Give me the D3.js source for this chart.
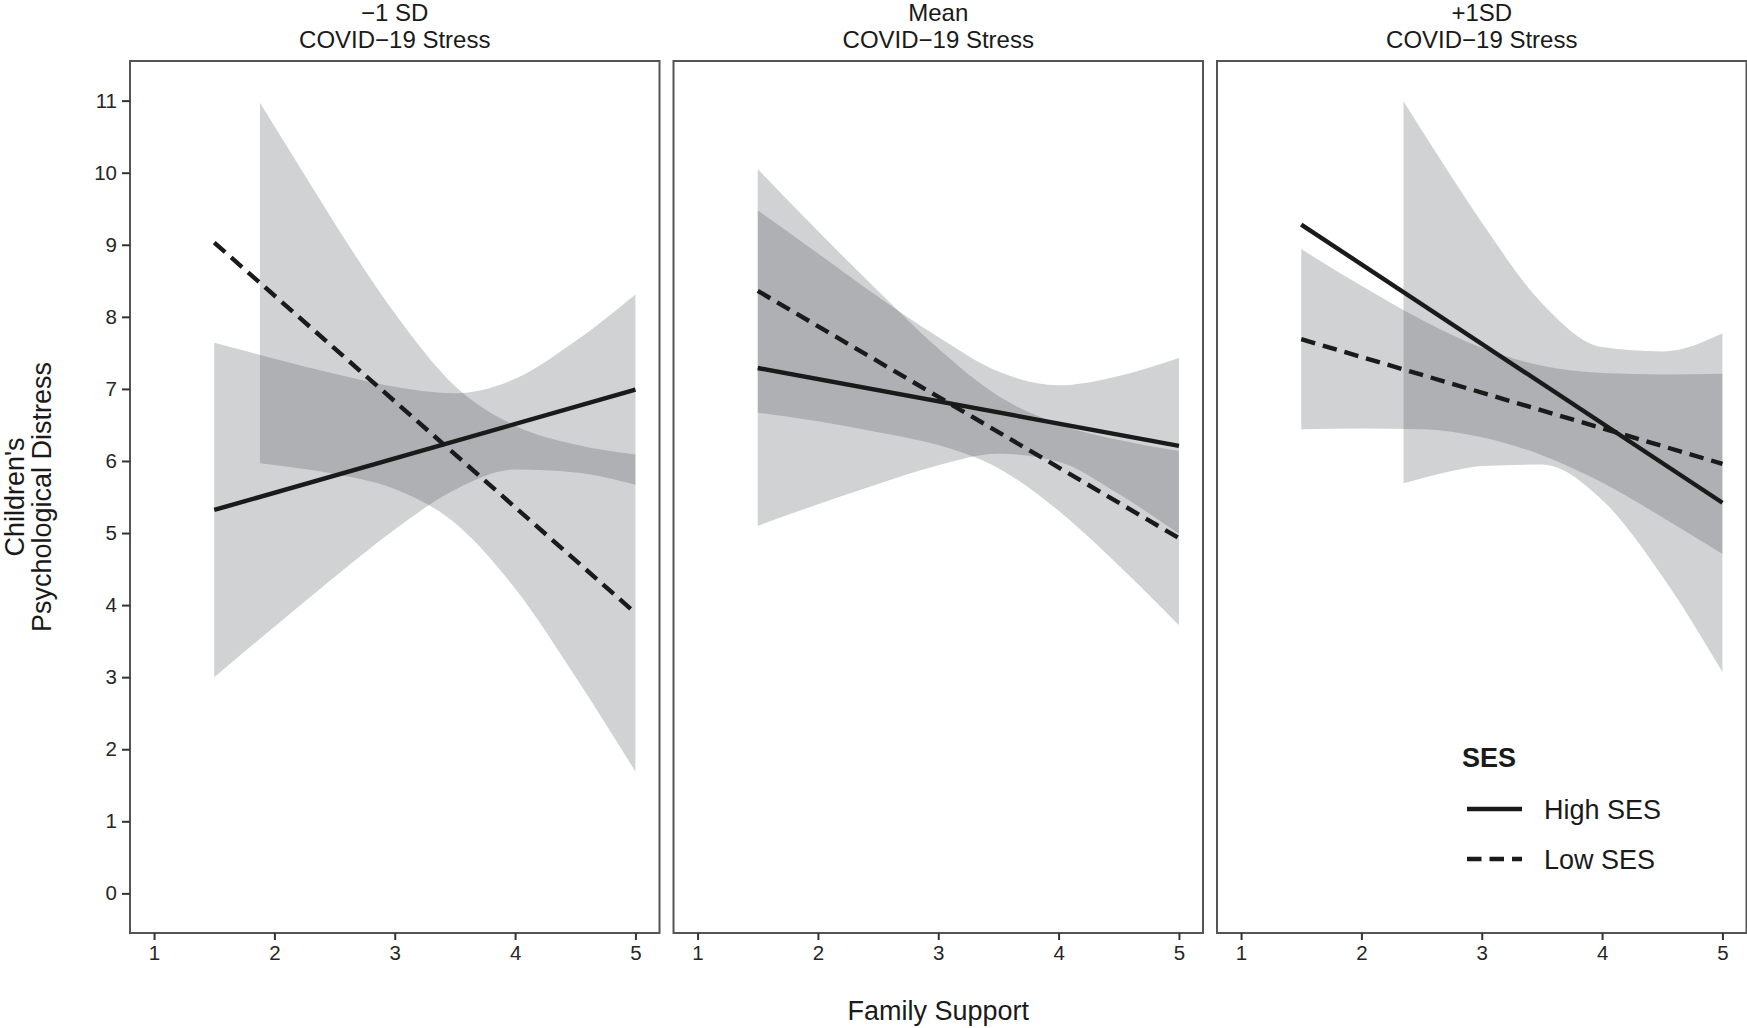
<!DOCTYPE html>
<html>
<head>
<meta charset="utf-8">
<script src="https://cdn.jsdelivr.net/npm/d3@7"></script>
<style>
  body { margin: 0; background: #fff; }
  text { font-family: "Liberation Sans", Arial, Helvetica, sans-serif; }
</style>
</head>
<body>
<svg id="chart" width="1747" height="1028"></svg>
<script>
// panels and series
var panelTitles = ["\u22121 SD", "Mean", "+1SD"];
var panelSub = "COVID\u221219 Stress";
var seriesNames = ["High SES", "Low SES"];

var xTicks = [1, 2, 3, 4, 5];
var yTicks = [0, 1, 2, 3, 4, 5, 6, 7, 8, 9, 10, 11];

// fitted lines, from x = 1.5 to x = 5
var lineX = [1.5, 5];
var highLine = [[5.32, 6.99], [7.29, 6.21], [9.28, 5.42]];
var lowLine = [[9.03, 3.89], [8.36, 4.93], [7.69, 5.96]];

// confidence bands
var ribX = [1.5, 2, 2.5, 3, 3.5, 4, 4.5, 5];

var highRibX = [ribX, ribX, [2.35, 2.75, 3, 3.5, 4, 4.5, 5]];
var highRibLo = [
  [3.00, 3.70, 4.39, 5.05, 5.60, 5.88, 5.84, 5.67],
  [5.10, 5.40, 5.68, 5.94, 6.10, 5.99, 5.54, 4.99],
  [5.69, 5.86, 5.93, 5.95, 5.46, 4.40, 3.07]
];
var highRibHi = [
  [7.64, 7.42, 7.21, 7.03, 6.94, 7.14, 7.66, 8.31],
  [9.48, 8.88, 8.28, 7.72, 7.24, 7.05, 7.18, 7.43],
  [10.99, 9.94, 9.31, 8.19, 7.58, 7.52, 7.77]
];

var lowRibX = [[1.88, 2.25, 2.5, 3, 3.5, 4, 4.5, 5], ribX, ribX];
var lowRibLo = [
  [5.97, 5.89, 5.82, 5.61, 5.14, 4.23, 3.01, 1.69],
  [6.67, 6.55, 6.40, 6.22, 5.90, 5.31, 4.55, 3.72],
  [6.44, 6.45, 6.44, 6.33, 6.08, 5.70, 5.22, 4.71]
];
var lowRibHi = [
  [10.97, 9.97, 9.30, 8.05, 7.04, 6.49, 6.23, 6.09],
  [10.05, 9.19, 8.36, 7.56, 6.90, 6.51, 6.29, 6.14],
  [8.94, 8.43, 7.96, 7.57, 7.32, 7.22, 7.20, 7.21]
];

// layout (note: "top" would clash with window.top)
var padLeft = 130, padTop = 61, panelW = 529.5, panelH = 872, step = 543.5;
var ink = "#1a1a1a";
var ribFill = "rgb(78,82,90)", ribAlpha = 0.26;
var dash = "14.5,8";
var tickFont = "20.5px";

var svg = d3.select("#chart");

var x = d3.scaleLinear().domain([0.8, 5.2]).range([0, panelW]);
var y = d3.scaleLinear().domain([-0.55, 11.55]).range([panelH, 0]);

var area = d3.area()
  .x(d => x(d.x))
  .y0(d => y(d.lo))
  .y1(d => y(d.hi))
  .curve(d3.curveMonotoneX);

var line = d3.line()
  .x(d => x(d.x))
  .y(d => y(d.y));

function band(xs, lo, hi) {
  return xs.map((v, k) => ({ x: v, lo: lo[k], hi: hi[k] }));
}
function seg(vals) {
  return lineX.map((v, k) => ({ x: v, y: vals[k] }));
}

panelTitles.forEach(function(title, i) {
  var g = svg.append("g")
    .attr("transform", "translate(" + (padLeft + i * step) + "," + padTop + ")");

  g.append("path")
    .datum(band(highRibX[i], highRibLo[i], highRibHi[i]))
    .attr("d", area)
    .attr("fill", ribFill)
    .attr("fill-opacity", ribAlpha);

  g.append("path")
    .datum(band(lowRibX[i], lowRibLo[i], lowRibHi[i]))
    .attr("d", area)
    .attr("fill", ribFill)
    .attr("fill-opacity", ribAlpha);

  g.append("path")
    .datum(seg(highLine[i]))
    .attr("d", line)
    .attr("fill", "none")
    .attr("stroke", ink)
    .attr("stroke-width", 4.4);

  g.append("path")
    .datum(seg(lowLine[i]))
    .attr("d", line)
    .attr("fill", "none")
    .attr("stroke", ink)
    .attr("stroke-width", 4.4)
    .attr("stroke-dasharray", dash);

  g.append("rect")
    .attr("width", panelW)
    .attr("height", panelH)
    .attr("fill", "none")
    .attr("stroke", "#555")
    .attr("stroke-width", 2);

  // x axis
  var xa = g.append("g")
    .attr("transform", "translate(0," + panelH + ")")
    .call(d3.axisBottom(x).tickValues(xTicks).tickSize(7).tickPadding(5.5).tickFormat(d3.format("d")));
  xa.select(".domain").remove();
  xa.selectAll("line").attr("stroke", "#333").attr("stroke-width", 2);
  xa.selectAll("text")
    .attr("fill", "#262626")
    .style("font-size", tickFont)
    .style("font-family", "'Liberation Sans', Arial, sans-serif");

  if (i === 0) {
    var ya = g.append("g")
      .call(d3.axisLeft(y).tickValues(yTicks).tickSize(8).tickPadding(5).tickFormat(d3.format("d")));
    ya.select(".domain").remove();
    ya.selectAll("line").attr("stroke", "#333").attr("stroke-width", 2);
    ya.selectAll("text")
      .attr("fill", "#262626")
      .style("font-size", tickFont)
      .style("font-family", "'Liberation Sans', Arial, sans-serif");
  }

  // strip titles
  g.append("text")
    .attr("x", panelW / 2)
    .attr("y", 20.5 - padTop)
    .attr("text-anchor", "middle")
    .attr("fill", ink)
    .style("font-size", "24px")
    .text(title);
  g.append("text")
    .attr("x", panelW / 2)
    .attr("y", 48 - padTop)
    .attr("text-anchor", "middle")
    .attr("fill", ink)
    .style("font-size", "24px")
    .text(panelSub);
});

// axis titles
var midX = padLeft + (2 * step + panelW) / 2;
svg.append("text")
  .attr("x", midX)
  .attr("y", 1020)
  .attr("text-anchor", "middle")
  .attr("fill", ink)
  .style("font-size", "27px")
  .text("Family Support");

var yt = svg.append("text")
  .attr("transform", "translate(0," + (padTop + panelH / 2) + ") rotate(-90)")
  .attr("text-anchor", "middle")
  .attr("fill", ink)
  .style("font-size", "27px");
yt.append("tspan").attr("x", 0).attr("y", 24).text("Children's");
yt.append("tspan").attr("x", 0).attr("y", 51).text("Psychological Distress");

// legend
var lg = svg.append("g").attr("transform", "translate(1462,767)");
lg.append("text")
  .attr("x", 0).attr("y", 0)
  .attr("fill", ink)
  .style("font-size", "27px")
  .style("font-weight", "bold")
  .text("SES");

seriesNames.forEach(function(name, k) {
  var row = lg.append("g").attr("transform", "translate(0," + (42 + k * 50) + ")");
  row.append("line")
    .attr("x1", 5).attr("x2", 60)
    .attr("y1", 0).attr("y2", 0)
    .attr("stroke", ink)
    .attr("stroke-width", 4.4)
    .attr("stroke-dasharray", k === 1 ? dash : null);
  row.append("text")
    .attr("x", 82).attr("y", 10)
    .attr("fill", ink)
    .style("font-size", "27px")
    .text(name);
});
</script>
</body>
</html>
